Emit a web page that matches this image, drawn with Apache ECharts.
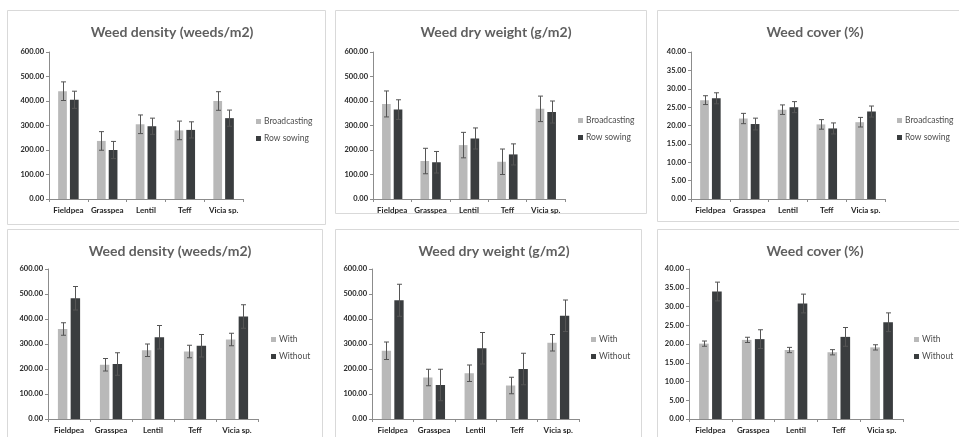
<!DOCTYPE html>
<html><head><meta charset="utf-8">
<script src="https://cdn.jsdelivr.net/npm/echarts@6/dist/echarts.min.js"></script>
<style>html,body{margin:0;padding:0;background:#fff}#c{width:959px;height:437px}</style>
</head><body><div id="c"></div>
<script>
const categories = ['Fieldpea', 'Grasspea', 'Lentil', 'Teff', 'Vicia sp.'];
const titles = ['Weed density (weeds/m2)', 'Weed dry weight (g/m2)', 'Weed cover (%)', 'Weed density (weeds/m2)', 'Weed dry weight (g/m2)', 'Weed cover (%)'];
const topSeriesNames = ['Broadcasting', 'Row sowing'];
const bottomSeriesNames = ['With', 'Without'];
const yMaxValues = [600, 600, 40, 600, 600, 40];
const yIntervals = [100, 100, 5, 100, 100, 5];

// Top row: sowing method
const densityBroadcast = [440, 237, 305, 280, 400];
const densityBroadcastErr = [38, 38, 38, 38, 38];
const densityRow = [405, 200, 297, 282, 330];
const densityRowErr = [35, 35, 33, 33, 33];
const dryBroadcast = [388, 155, 220, 152, 368];
const dryBroadcastErr = [53, 52, 52, 52, 52];
const dryRow = [365, 150, 247, 182, 355];
const dryRowErr = [40, 44, 43, 43, 45];
const coverBroadcast = [26.9, 21.9, 24.3, 20.3, 20.9];
const coverBroadcastErr = [1.2, 1.4, 1.3, 1.3, 1.3];
const coverRow = [27.4, 20.4, 25.0, 19.2, 23.8];
const coverRowErr = [1.5, 1.6, 1.5, 1.5, 1.5];
// Bottom row: with / without
const densityWith = [360, 217, 275, 270, 318];
const densityWithErr = [25, 25, 25, 25, 25];
const densityWithout = [483, 220, 327, 293, 410];
const densityWithoutErr = [47, 45, 47, 45, 47];
const dryWith = [273, 166, 183, 134, 305];
const dryWithErr = [35, 33, 33, 33, 33];
const dryWithout = [475, 136, 283, 200, 413];
const dryWithoutErr = [64, 63, 63, 63, 63];
const coverWith = [20.1, 21.1, 18.4, 17.8, 19.1];
const coverWithErr = [0.7, 0.7, 0.7, 0.7, 0.7];
const coverWithout = [34.0, 21.3, 30.8, 21.9, 25.8];
const coverWithoutErr = [2.5, 2.5, 2.5, 2.5, 2.5];

const panels = [
  {names: topSeriesNames, a: densityBroadcast, ae: densityBroadcastErr, b: densityRow, be: densityRowErr},
  {names: topSeriesNames, a: dryBroadcast, ae: dryBroadcastErr, b: dryRow, be: dryRowErr},
  {names: topSeriesNames, a: coverBroadcast, ae: coverBroadcastErr, b: coverRow, be: coverRowErr},
  {names: bottomSeriesNames, a: densityWith, ae: densityWithErr, b: densityWithout, be: densityWithoutErr},
  {names: bottomSeriesNames, a: dryWith, ae: dryWithErr, b: dryWithout, be: dryWithoutErr},
  {names: bottomSeriesNames, a: coverWith, ae: coverWithErr, b: coverWithout, be: coverWithoutErr}
];

// layout (pixels)
const grids = [
  {left: 49, top: 52, width: 194, height: 147},
  {left: 373, top: 52, width: 192, height: 147},
  {left: 691, top: 52, width: 194, height: 147},
  {left: 48, top: 269, width: 210, height: 150},
  {left: 372, top: 269, width: 207, height: 150},
  {left: 689, top: 269, width: 214, height: 150}
];
const titlePos = [[167, 20], [491, 20], [810, 20], [165, 239], [489, 239], [810, 239]];
const legendPos = [[256, 117], [578, 116], [897, 116], [271, 335], [591, 335], [914, 335]];
const frames = [
  [7, 10, 318, 214], [335, 10, 311, 203], [657, 10, 320, 211],
  [7, 229, 315, 230], [335, 229, 306, 230], [657, 229, 320, 230]
];

const LIGHT = '#b9b9b9', DARK = '#3a3d3f', AXIS = '#8c8c8c', TXT = '#4d4d4d';
const FONT = 'Lato, "Open Sans", sans-serif';
const BAR_RATIO = 0.225, GAP_RATIO = 0.35;

const option = {
  animation: false,
  backgroundColor: '#fff',
  title: [], legend: [], grid: [], xAxis: [], yAxis: [], series: [],
  graphic: frames.map(f => ({type: 'rect', silent: true, z: -1,
    shape: {x: f[0] + 0.5, y: f[1] + 0.5, width: f[2], height: f[3]},
    style: {fill: 'none', stroke: '#d9d9d9', lineWidth: 1}}))
};

function errSeries(idx, vals, errs, sign, name) {
  return {
    type: 'custom', name: name, xAxisIndex: idx, yAxisIndex: idx, z: 5,
    data: vals.map((v, i) => [i, v, errs[i]]),
    renderItem: function (params, api) {
      const band = api.size([1, 0])[0];
      const bw = band * BAR_RATIO;
      const off = sign * bw * (1 + GAP_RATIO) / 2;
      const c = api.coord([api.value(0), api.value(1)]);
      const hi = api.coord([api.value(0), api.value(1) + api.value(2)]);
      const lo = api.coord([api.value(0), api.value(1) - api.value(2)]);
      const x = Math.round(c[0] + off) + 0.5;
      const cap = 2.5;
      const st = {stroke: '#555', lineWidth: 1};
      return {type: 'group', children: [
        {type: 'line', shape: {x1: x, y1: hi[1], x2: x, y2: lo[1]}, style: st},
        {type: 'line', shape: {x1: x - cap, y1: hi[1], x2: x + cap, y2: hi[1]}, style: st},
        {type: 'line', shape: {x1: x - cap, y1: lo[1], x2: x + cap, y2: lo[1]}, style: st}
      ]};
    }
  };
}

panels.forEach((p, i) => {
  option.grid.push(Object.assign({containLabel: false}, grids[i]));
  option.title.push({text: titles[i], left: titlePos[i][0], top: titlePos[i][1], textAlign: 'center',
    textStyle: {fontFamily: FONT, fontSize: 14, fontWeight: 'bold', color: '#5f5f5f'}});
  option.legend.push({data: p.names, left: legendPos[i][0], top: legendPos[i][1], orient: 'vertical',
    icon: 'rect', itemWidth: 5, itemHeight: 5, itemGap: 8, selectedMode: false, padding: 0,
    textStyle: {fontFamily: FONT, fontSize: 8.5, color: TXT, padding: [0, 0, 0, -2]}});
  option.xAxis.push({type: 'category', gridIndex: i, data: categories, boundaryGap: true,
    axisLine: {lineStyle: {color: AXIS}}, axisTick: {show: true, length: 3, alignWithLabel: false, lineStyle: {color: AXIS}},
    axisLabel: {fontFamily: FONT, fontSize: 8, fontWeight: 'bold', color: '#262626', margin: 7, interval: 0},
    splitLine: {show: false}});
  option.yAxis.push({type: 'value', gridIndex: i, min: 0, max: yMaxValues[i], interval: yIntervals[i],
    axisLine: {show: true, lineStyle: {color: AXIS}}, axisTick: {show: true, length: 3, lineStyle: {color: AXIS}},
    axisLabel: {fontFamily: FONT, fontSize: 7.5, fontWeight: 'bold', color: '#262626', margin: 5,
      formatter: v => v.toFixed(2)},
    splitLine: {show: false}});
  option.series.push({type: 'bar', name: p.names[0], xAxisIndex: i, yAxisIndex: i, data: p.a,
    barWidth: (BAR_RATIO * 100) + '%', barGap: (GAP_RATIO * 100) + '%', itemStyle: {color: LIGHT}});
  option.series.push({type: 'bar', name: p.names[1], xAxisIndex: i, yAxisIndex: i, data: p.b,
    barWidth: (BAR_RATIO * 100) + '%', barGap: (GAP_RATIO * 100) + '%', itemStyle: {color: DARK}});
  option.series.push(errSeries(i, p.a, p.ae, -1, 'err-a-' + i));
  option.series.push(errSeries(i, p.b, p.be, 1, 'err-b-' + i));
});

const chart = echarts.init(document.getElementById('c'), null, {renderer: 'canvas'});
chart.setOption(option);
</script></body></html>
